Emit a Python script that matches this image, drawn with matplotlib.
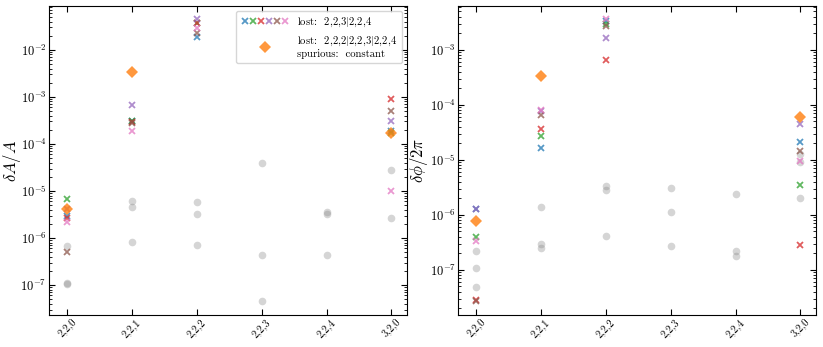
import numpy as np
import matplotlib
matplotlib.use("Agg")
import matplotlib.pyplot as plt
from matplotlib.legend_handler import HandlerTuple

plt.rcParams["font.family"] = "serif"
plt.rcParams["font.serif"] = ["cmr10"]
plt.rcParams["mathtext.fontset"] = "cm"
plt.rcParams["axes.formatter.use_mathtext"] = True

modes = ["2,2,0", "2,2,1", "2,2,2", "2,2,3", "2,2,4", "3,2,0"]
cross_colors = ["tab:blue", "tab:green", "tab:red", "tab:purple", "tab:brown", "tab:pink"]

# amplitude errors, six runs that lost 2,2,3|2,2,4 (nan = mode not fitted)
amp_cross = [
    [3.0e-6, 3.0e-4, 1.86e-2, np.nan, np.nan, 1.9e-4],
    [6.65e-6, 3.0e-4, 3.7e-2, np.nan, np.nan, 1.7e-4],
    [2.6e-6, 2.9e-4, 3.8e-2, np.nan, np.nan, 9.1e-4],
    [4.2e-6, 6.7e-4, 4.5e-2, np.nan, np.nan, 3.0e-4],
    [5.0e-7, 2.8e-4, 2.27e-2, np.nan, np.nan, 4.9e-4],
    [2.2e-6, 1.9e-4, 2.9e-2, np.nan, np.nan, 1.0e-5],
]
amp_diamond = [4.07e-6, 3.35e-3, np.nan, np.nan, np.nan, 1.74e-4]
amp_gray = [
    [6.8e-7, 6.2e-6, 5.7e-6, 3.9e-5, 3.5e-6, 2.8e-5],
    [1.1e-7, 4.5e-6, 3.2e-6, 4.4e-7, 3.2e-6, 2.7e-6],
    [1.05e-7, 8.3e-7, 7.2e-7, 4.6e-8, 4.4e-7, np.nan],
]

# phase errors
phase_cross = [
    [1.27e-6, 1.65e-5, 3.4e-3, np.nan, np.nan, 2.07e-5],
    [3.9e-7, 2.75e-5, 2.9e-3, np.nan, np.nan, 3.5e-6],
    [2.85e-8, 3.66e-5, 6.5e-4, np.nan, np.nan, 2.85e-7],
    [1.25e-6, 7.7e-5, 1.67e-3, np.nan, np.nan, 4.56e-5],
    [2.75e-8, 6.4e-5, 2.73e-3, np.nan, np.nan, 1.46e-5],
    [3.4e-7, 8.1e-5, 3.6e-3, np.nan, np.nan, 9.4e-6],
]
phase_diamond = [7.6e-7, 3.37e-4, np.nan, np.nan, np.nan, 6.0e-5]
phase_gray = [
    [2.2e-7, 1.38e-6, 3.4e-6, 3.1e-6, 2.4e-6, 1.3e-5],
    [1.07e-7, 3.0e-7, 2.85e-6, 1.13e-6, 2.2e-7, 9.0e-6],
    [4.8e-8, 2.5e-7, 4.1e-7, 2.75e-7, 1.8e-7, 2.0e-6],
]

fig = plt.figure(figsize=(8.23, 3.47), dpi=100)
ax1 = fig.add_axes([0.06, 0.092, 0.4346, 0.891])
ax2 = fig.add_axes([0.557, 0.092, 0.4345, 0.891])

x = np.arange(len(modes))

def draw(ax, cross, diamond, gray):
    for g in gray:
        ax.plot(x, g, "o", color="gray", alpha=0.33, markersize=5.5, markeredgewidth=0)
    hs = []
    for vals, c in zip(cross, cross_colors):
        h, = ax.plot(x, vals, "x", color=c, alpha=0.75, markersize=5, markeredgewidth=1.3)
        hs.append(h)
    hd, = ax.plot(x, diamond, "D", color="tab:orange", alpha=0.8, markersize=6, markeredgewidth=0)
    ax.set_yscale("log")
    ax.set_xticks(x)
    ax.set_xticklabels(modes, rotation=45)
    ax.set_xlim(-0.27, 5.24)
    ax.tick_params(which="both", direction="in", top=True, right=True)
    ax.tick_params(axis="y", labelsize=9, pad=2)
    ax.tick_params(axis="x", labelsize=7.5, pad=1.5)
    ax.tick_params(which="major", length=4)
    ax.tick_params(which="minor", length=2)
    return hs, hd

hs, hd = draw(ax1, amp_cross, amp_diamond, amp_gray)
ax1.set_ylim(2.3e-8, 8.6e-2)
ax1.set_ylabel(r"$\delta A/A$", fontsize=12)
ax1.yaxis.set_label_coords(-0.074, 0.5)
ax1.legend([tuple(hs), hd],
           [r"lost:  2,2,3$|$2,2,4", "lost:  2,2,2$|$2,2,3$|$2,2,4\nspurious:  constant"],
           handler_map={tuple: HandlerTuple(ndivide=None, pad=0)},
           handlelength=4.5, fontsize=7.7, loc="upper right")

draw(ax2, phase_cross, phase_diamond, phase_gray)
ax2.set_ylim(1.5e-8, 6.3e-3)
ax2.set_ylabel(r"$\delta\phi/2\pi$", fontsize=12)
ax2.yaxis.set_label_coords(-0.079, 0.5)

fig.savefig("out.png", dpi=100)
